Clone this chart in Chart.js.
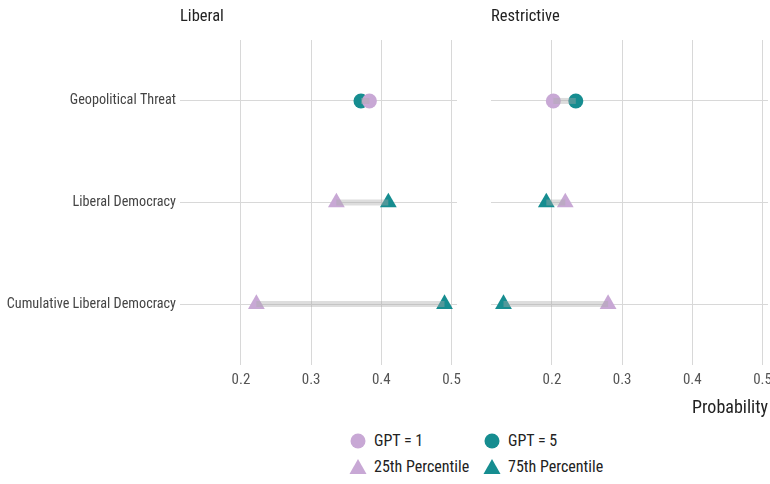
<!DOCTYPE html>
<html><head><meta charset="utf-8">
<script src="https://cdn.jsdelivr.net/npm/chart.js@4"></script>
<style>
body{margin:0;background:#fff;font-family:'Roboto Condensed','Liberation Sans Narrow',Roboto,sans-serif;}
#wrap{position:relative;width:770px;height:484px;overflow:hidden;background:#fff}
.box{position:absolute}
.title{position:absolute;top:5px;font-size:16.5px;color:#222;line-height:22px}
#xlab{position:absolute;right:2px;top:395px;font-size:18px;color:#222;line-height:24px}
.leg{position:absolute;font-size:16px;color:#222;line-height:22px;display:flex;align-items:center}
.leg svg{margin-right:7px}
</style></head>
<body><div id="wrap">
<div class="box" style="left:0;top:0;width:462px;height:400px"><canvas id="c1"></canvas></div>
<div class="box" style="left:491px;top:0;width:279px;height:400px"><canvas id="c2"></canvas></div>
<div class="title" style="left:180px">Liberal</div>
<div class="title" style="left:491px">Restrictive</div>
<div id="xlab">Probability</div>
<div class="leg" style="left:349px;top:430px"><svg width="18" height="18"><circle cx="9" cy="9" r="7.5" fill="#c8a8d5"/></svg>GPT = 1</div>
<div class="leg" style="left:483px;top:430px"><svg width="18" height="18"><circle cx="9" cy="9" r="7.5" fill="#168d90"/></svg>GPT = 5</div>
<div class="leg" style="left:349px;top:456px"><svg width="18" height="18"><polygon points="9,1 17.5,16 0.5,16" fill="#c8a8d5"/></svg>25th Percentile</div>
<div class="leg" style="left:483px;top:456px"><svg width="18" height="18"><polygon points="9,1 17.5,16 0.5,16" fill="#168d90"/></svg>75th Percentile</div>
</div>
<script>
const categories = ['Geopolitical Threat','Liberal Democracy','Cumulative Liberal Democracy'];
const xTickValues = [0.2,0.3,0.4,0.5];
const panels = ['Liberal','Restrictive'];
const liberalGpt1 = [0.383,null,null];
const liberalGpt5 = [0.371,null,null];
const liberalP25  = [null,0.336,0.222];
const liberalP75  = [null,0.410,0.490];
const restrictiveGpt1 = [0.202,null,null];
const restrictiveGpt5 = [0.234,null,null];
const restrictiveP25  = [null,0.219,0.280];
const restrictiveP75  = [null,0.192,0.131];

const PURPLE = '#c8a8d5', TEAL = '#168d90', GRID = '#d8d8d8';
const FONT = "'Roboto Condensed','Liberation Sans Narrow',Roboto,sans-serif";

function pts(arr){ return arr.map((v,i)=> v==null?null:{x:v,y:i}).filter(p=>p); }

function makeChart(id, gpt1, gpt5, p25, p75, showLabels, padRight){
  const datasets = [];
  for(let i=0;i<categories.length;i++){
    const a = gpt1[i]!=null?gpt1[i]:p25[i];
    const b = gpt5[i]!=null?gpt5[i]:p75[i];
    datasets.push({type:'line',data:[{x:a,y:i},{x:b,y:i}],borderColor:'rgba(170,170,170,0.4)',borderWidth:6,pointRadius:0,borderCapStyle:'butt',clip:false});
  }
  datasets.push({type:'scatter',data:pts(gpt1),pointStyle:'circle',pointRadius:7.5,backgroundColor:PURPLE,borderWidth:0,clip:false});
  datasets.push({type:'scatter',data:pts(gpt5),pointStyle:'circle',pointRadius:7.5,backgroundColor:TEAL,borderWidth:0,clip:false});
  datasets.push({type:'scatter',data:pts(p25),pointStyle:'triangle',pointRadius:9.7,backgroundColor:PURPLE,borderWidth:0,clip:false});
  datasets.push({type:'scatter',data:pts(p75),pointStyle:'triangle',pointRadius:9.7,backgroundColor:TEAL,borderWidth:0,clip:false});
  return new Chart(document.getElementById(id),{
    data:{datasets},
    options:{
      responsive:true,maintainAspectRatio:false,animation:false,
      layout:{autoPadding:false,padding:{top:40,right:padRight,left:0,bottom:0}},
      plugins:{legend:{display:false},tooltip:{enabled:false}},
      scales:{
        x:{type:'linear',min:0.1132,max:0.5078,
          afterBuildTicks:s=>{s.ticks=xTickValues.map(v=>({value:v}));},
          afterFit:s=>{s.height=35;s.paddingLeft=0;s.paddingRight=0;},
          grid:{color:GRID,drawTicks:false},border:{display:false},
          ticks:{autoSkip:false,maxRotation:0,padding:6,color:'#555',font:{family:FONT,size:15},callback:v=>String(v)}},
        y:{type:'linear',reverse:true,min:-0.6,max:2.6,
          afterBuildTicks:s=>{s.ticks=categories.map((c,i)=>({value:i}));},
          afterFit:s=>{s.width=showLabels?180:0;s.paddingTop=0;s.paddingBottom=0;},
          grid:{color:GRID,drawTicks:false},border:{display:false},
          ticks:{display:showLabels,autoSkip:false,padding:4,color:'#444',font:{family:FONT,size:14.2},callback:v=>categories[v]}}
      }
    }
  });
}
makeChart('c1',liberalGpt1,liberalGpt5,liberalP25,liberalP75,true,5);
makeChart('c2',restrictiveGpt1,restrictiveGpt5,restrictiveP25,restrictiveP75,false,2);
</script></body></html>
